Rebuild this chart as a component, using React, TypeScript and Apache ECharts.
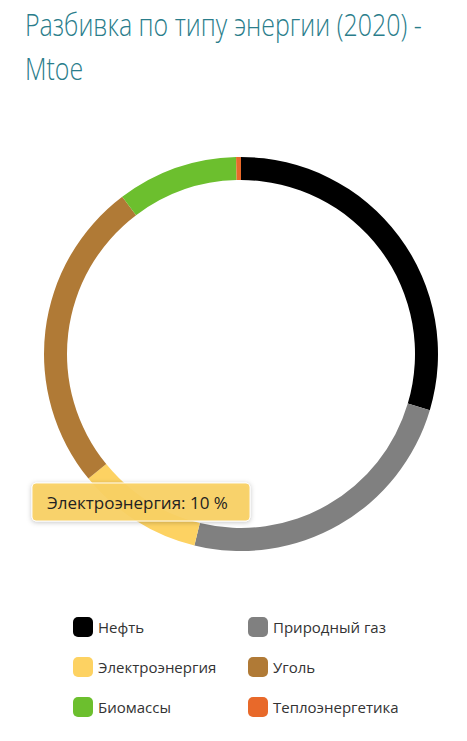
import React, { useEffect, useRef } from 'react';
import * as echarts from 'echarts';
import type { EChartsType } from 'echarts';

const titleLines = ['Разбивка по типу энергии (2020) -', 'Mtoe'];
const categories = ['Нефть', 'Природный газ', 'Электроэнергия', 'Уголь', 'Биомассы', 'Теплоэнергетика'];
const values = [29.6, 24.2, 10.3, 25.6, 9.9, 0.4];
const colors = ['#000000', '#808080', '#FDD262', '#B07A36', '#6CBF2E', '#E8692A'];
const leftLegend = ['Нефть', 'Электроэнергия', 'Биомассы'];
const rightLegend = ['Природный газ', 'Уголь', 'Теплоэнергетика'];
const tipIndex = 2;

const EnergyChart = () => {
  const chartRef = useRef<HTMLDivElement>(null);

  useEffect(() => {
    let chartInstance: EChartsType | null = null;

    if (chartRef.current) {
      chartInstance = echarts.init(chartRef.current, null, { renderer: 'svg' });

      const total = values.reduce((a, b) => a + b, 0);
      // the tooltip in the screenshot is frozen, so draw it as a box
      const tipText = `${categories[tipIndex]}: ${Math.round((values[tipIndex] / total) * 100)} %`;

      const legendBase = {
        orient: 'vertical',
        top: 612,
        itemWidth: 20,
        itemHeight: 20,
        itemGap: 20,
        icon: 'roundRect',
        selectedMode: false,
        textStyle: {
          fontFamily: 'Open Sans',
          fontSize: 15,
          color: '#333'
        }
      };

      const option = {
        animation: false,
        color: colors,
        graphic: [
          {
            type: 'text',
            left: 25,
            top: 2,
            scaleX: 0.805,
            style: {
              text: titleLines.join('\n'),
              fontFamily: 'Open Sans',
              fontWeight: 300,
              fontSize: 31,
              lineHeight: 44,
              fill: '#2A7D8B'
            }
          },
          {
            type: 'rect',
            x: 32,
            y: 483,
            z: 100,
            shape: { x: 0, y: 0, width: 218, height: 38, r: 4 },
            style: {
              fill: 'rgba(250,209,100,0.93)',
              stroke: 'rgba(255,255,255,0.9)',
              lineWidth: 1,
              shadowBlur: 5,
              shadowColor: 'rgba(0,0,0,0.25)',
              shadowOffsetY: 1
            }
          },
          {
            type: 'text',
            x: 47,
            y: 502,
            z: 101,
            style: {
              text: tipText,
              fontFamily: 'Open Sans',
              fontSize: 17,
              fill: '#222',
              verticalAlign: 'middle'
            }
          }
        ],
        legend: [
          { ...legendBase, left: 68, data: leftLegend },
          { ...legendBase, left: 243, data: rightLegend }
        ],
        series: [
          {
            name: 'Энергия',
            type: 'pie',
            center: [241, 354],
            radius: [174, 197],
            startAngle: 90,
            clockwise: true,
            avoidLabelOverlap: false,
            label: { show: false },
            labelLine: { show: false },
            emphasis: { disabled: true },
            itemStyle: { borderWidth: 0 },
            data: categories.map((name, i) => ({ name, value: values[i] }))
          }
        ]
      };

      chartInstance.setOption(option as any);
    }

    return () => {
      chartInstance?.dispose();
    };
  }, []);

  return (
    <div
      ref={chartRef}
      style={{ position: 'fixed', left: 0, top: 0, width: '467px', height: '741px', background: '#fff' }}
    ></div>
  );
};

export default function App() {
  return <EnergyChart />;
}
